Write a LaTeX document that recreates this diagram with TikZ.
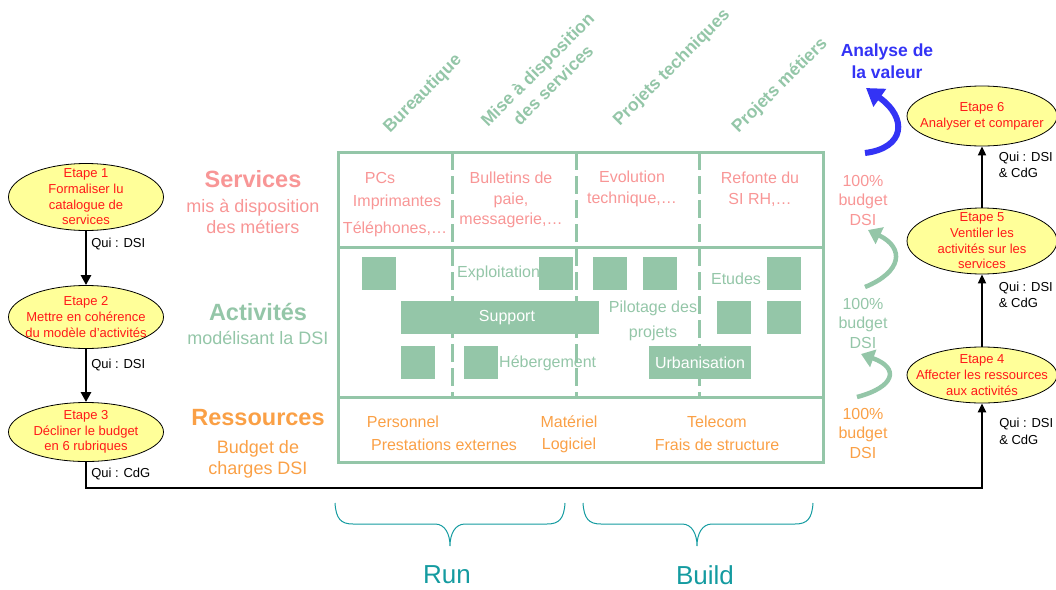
\documentclass[tikz,border=0pt]{standalone}
\usepackage{fontspec}
\setmainfont{Liberation Sans}
\usetikzlibrary{shapes.geometric,arrows.meta}

\definecolor{srvpink}{RGB}{248,150,150}
\definecolor{actgreen}{RGB}{148,198,168}
\definecolor{resorange}{RGB}{250,160,70}
\definecolor{stagered}{RGB}{255,25,25}
\definecolor{stageyellow}{RGB}{255,255,153}
\definecolor{valblue}{RGB}{51,51,245}
\definecolor{braceteal}{RGB}{20,155,160}

\newcommand{\fsz}[2]{\fontsize{#1}{#2}\selectfont}

\begin{document}
\begin{tikzpicture}[x=1pt,y=-1pt,
 stage/.style={ellipse,draw=black,fill=stageyellow,line width=0.8pt,minimum width=150pt,inner sep=0pt},
 stagetext/.style={text=stagered,align=center,font=\fsz{13}{15.7},inner sep=0pt},
 link/.style={line width=2.6pt,-{Triangle[length=10pt,width=10pt]}},
 uplink/.style={line width=1.8pt,-{Triangle[length=9pt,width=8pt]}},
 qui/.style={font=\fsz{13}{16.5},anchor=west,align=left,inner sep=0pt,xshift=4pt},
 quiright/.style={qui,xshift=12pt},
 coltitle/.style={rotate=45,text=actgreen,font=\bfseries\fsz{17.5}{22},align=center,inner sep=0pt},
 rowtitle/.style={font=\bfseries\fsz{23.5}{26},inner sep=0pt},
 rowsub/.style={font=\fsz{18}{21},align=center,inner sep=0pt},
 panel/.style={draw=actgreen,line width=3pt},
 colsep/.style={draw=actgreen,line width=3pt,dash pattern=on 18pt off 6pt},
 srvtext/.style={text=srvpink,font=\fsz{16}{20.5},align=center,inner sep=0pt},
 acttext/.style={text=actgreen,font=\fsz{16}{25},align=center,inner sep=0pt},
 restext/.style={text=resorange,font=\fsz{16}{20},inner sep=0pt},
 actsquare/.style={fill=actgreen,minimum width=34pt,minimum height=33pt,inner sep=0pt},
 actbar/.style={actsquare,text=white,font=\fsz{16}{20}},
 budget/.style={font=\fsz{16}{19.5},align=center,inner sep=0pt},
 share/.style={actgreen,line width=4.5pt,-{Triangle[length=13pt,width=18pt]}},
 valarrow/.style={valblue,line width=6pt,-{Triangle[length=17pt,width=21pt]}},
 bracepath/.style={braceteal,line width=1pt},
 bracetext/.style={text=braceteal,font=\fsz{26}{30},inner sep=0pt}]
\useasboundingbox (0,0) rectangle (1056,589);

% steps on the left
\node[stage,minimum width=155pt,minimum height=67pt,label={[stagetext]center:{Etape 1\\Formaliser lu\\catalogue de\\services}}] (e1) at (86,197) {};
\node[stage,minimum width=155pt,minimum height=63pt,label={[stagetext]center:{Etape 2\\Mettre en cohérence\\du modèle d’activités}}] (e2) at (86,317) {};
\node[stage,minimum width=155pt,minimum height=59pt,label={[stagetext]center:{Etape 3\\Décliner le budget\\en 6 rubriques}}] (e3) at (86,432) {};

% steps on the right
\node[stage,minimum height=56pt,label={[stagetext]center:{Etape 4\\Affecter les ressources\\aux activités}}] (e4) at (982,375) {};
\node[stage,minimum height=66pt,label={[stagetext]center:{Etape 5\\Ventiler les\\activités sur les\\services}}] (e5) at (982,241) {};
\node[stage,minimum height=60pt,label={[stagetext]center:{Etape 6\\Analyser et comparer}}] (e6) at (982,116) {};

\coordinate (turn) at (982,488);
\draw[link] (e1) -- node[qui,pos=0.25]{Qui : DSI} (e2);
\draw[link] (e2) -- node[qui,pos=0.3]{Qui : DSI} (e3);
\draw[uplink,line width=2.6pt] (e3) |- node[qui,pos=0.23]{Qui : CdG} (turn) -- node[quiright,pos=0.67]{Qui : DSI\\\& CdG} (e4);
\draw[uplink] (e4) -- node[quiright,pos=0.72]{Qui : DSI\\\& CdG} (e5);
\draw[uplink] (e5) -- node[quiright,pos=0.7]{Qui : DSI\\\& CdG} (e6);

% column titles
\node[coltitle] (bur) at (423,94) {Bureautique};
\node[coltitle] (mad) at (545,77) {Mise à disposition\\des services};
\node[coltitle] (ptech) at (672,68) {Projets techniques};
\node[coltitle] (pmet) at (780,86) {Projets métiers};

% row titles
\node[rowtitle,text=srvpink] (srv) at (253,179) {Services};
\node[rowsub,text=srvpink] (srvsub) at (253,216) {mis à disposition\\des métiers};
\node[rowtitle,text=actgreen] (act) at (258,312) {Activités};
\node[rowsub,text=actgreen] (actsub) at (258,338) {modélisant la DSI};
\node[rowtitle,text=resorange] (res) at (258,418) {Ressources};
\node[rowsub,text=resorange] (ressub) at (258,459) {Budget de\\charges DSI};

% panel
\draw[panel] (338,152) rectangle (823,462);
\draw[panel] (338,247) -- (823,247);
\draw[panel] (338,397) -- (823,397);

% services
\node[srvtext] (pcs) at (380,178) {PCs};
\node[srvtext] (imp) at (397,202) {Imprimantes};
\node[srvtext] (tel) at (395,229) {Téléphones,…};
\node[srvtext] (bul) at (511,200) {Bulletins de\\paie,\\messagerie,…};
\node[srvtext] (evo) at (632,189) {Evolution\\technique,…};
\node[srvtext] (refo) at (760,189) {Refonte du\\SI RH,…};

% activities
\node[acttext,anchor=west] (expl) at (457,273) {Exploitation};
\node[acttext] (etu) at (736,279) {Etudes};
\node[acttext] (pil) at (653,321) {Pilotage des\\projets};
\node[acttext,anchor=west] (heb) at (499,363) {Hébergement};

\draw[colsep] (452,152) -- (452,397);
\draw[colsep] (576,152) -- (576,397);
\draw[colsep] (699,152) -- (699,397);

\node[actsquare] (a1) at (379,273) {};
\node[actsquare] (a2) at (555.5,273) {};
\node[actsquare] (a3) at (609.5,273) {};
\node[actsquare] (a4) at (660,273) {};
\node[actsquare] (a5) at (784,273) {};
\node[actsquare] (a6) at (734,317.5) {};
\node[actsquare] (a7) at (784,317.5) {};
\node[actsquare] (a8) at (418,362.5) {};
\node[actsquare] (a9) at (480.5,362.5) {};
\node[actbar,minimum width=198pt] (sup) at (500,317.5) {\hspace{14pt}Support};
\node[actbar,minimum width=102pt] (urb) at (700,362.5) {Urbanisation};

% resources
\node[restext] (pers) at (403,422) {Personnel};
\node[restext] (prest) at (444,445) {Prestations externes};
\node[restext] (mat) at (569,422) {Matériel};
\node[restext] (logi) at (569,445) {Logiciel};
\node[restext] (telc) at (717,422) {Telecom};
\node[restext] (frais) at (717,445) {Frais de structure};

% budget shares
\node[budget,text=srvpink] (bsrv) at (863,200) {100\%\\budget\\DSI};
\node[budget,text=actgreen] (bact) at (863,323) {100\%\\budget\\DSI};
\node[budget,text=resorange] (bres) at (863,433) {100\%\\budget\\DSI};
\draw[share] (865,287) .. controls (902,272) and (905,248) .. (868,230);
\draw[share] (857,397) .. controls (895,387) and (900,368) .. (861,354);
\draw[valarrow] (865,153) .. controls (905,148) and (908,118) .. (866,88);
\node[text=valblue,font=\bfseries\fsz{17.5}{22},align=center,inner sep=0pt] (val) at (887,61) {Analyse de\\la valeur};

% run / build
\draw[bracepath] (335,503) .. controls (336,519) and (341,524) .. (353,524) -- (435,524) .. controls (445,524) and (450,534) .. (450,546) .. controls (450,534) and (455,524) .. (465,524) -- (547,524) .. controls (559,524) and (564,519) .. (565,503);
\draw[bracepath] (583,503) .. controls (584,519) and (589,524) .. (601,524) -- (682,524) .. controls (692,524) and (697,534) .. (697,546) .. controls (697,534) and (702,524) .. (712,524) -- (795,524) .. controls (807,524) and (812,519) .. (813,503);
\node[bracetext] (run) at (447,575) {Run};
\node[bracetext] (build) at (705,575) {Build};
\end{tikzpicture}
\end{document}
